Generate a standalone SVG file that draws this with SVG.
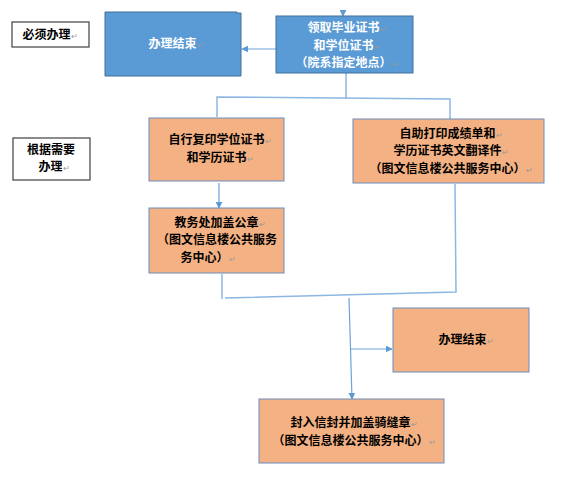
<svg xmlns="http://www.w3.org/2000/svg" width="567" height="479" viewBox="0 0 567 479">
<defs>
<marker id="ah" viewBox="0 0 10 10" refX="9" refY="5" markerWidth="7" markerHeight="7" markerUnits="userSpaceOnUse" orient="auto"><path d="M0,0 L10,5 L0,10 z" fill="#5B9BD5"/></marker>
<style>
.lbl{fill:#fff;stroke:#404040;stroke-width:1.2}
.blue{fill:#5B9BD5;stroke:#41719C;stroke-width:1}
.org{fill:#F4B183;stroke:#6A8DBE;stroke-width:1}
.t{font-family:"Noto Sans CJK SC","Noto Sans",sans-serif;font-size:12px;font-weight:bold;text-anchor:middle;fill:#000}
.tw{font-family:"Noto Sans CJK SC","Noto Sans",sans-serif;font-size:12px;font-weight:bold;text-anchor:middle;fill:#fff}
.pm{font-family:"Noto Sans CJK SC","Noto Sans",sans-serif;font-size:8px;font-weight:normal;fill:#999}
.c{fill:none;stroke:#8DB7E3;stroke-width:1.5}
.ca{fill:none;stroke:#6FA3DA;stroke-width:1.2;marker-end:url(#ah)}
</style>
</defs>
<g id="connectors">
<line class="ca" x1="343" y1="11" x2="343" y2="16"/>
<line class="ca" x1="276" y1="49" x2="242" y2="49"/>
<line class="c" x1="346" y1="73" x2="346" y2="99"/>
<polyline class="c" points="217,117 217,97 450,99 450,119"/>
<line class="ca" x1="219" y1="183" x2="219" y2="208"/>
<line class="c" x1="222" y1="274" x2="222" y2="299"/>
<polyline class="c" points="455,184 456,292 225,298"/>
<line class="ca" x1="349" y1="298" x2="352" y2="399"/>
<line class="ca" x1="351" y1="349" x2="392" y2="349"/>
</g>
<g id="label1">
<rect class="lbl" x="12" y="22" width="77" height="25"/>
<text class="t" x="50" y="39">必须办理<tspan class="pm">↵</tspan></text>
</g>
<g id="label2">
<rect class="lbl" x="13" y="138" width="77" height="42"/>
<text class="t" x="51" y="153.5">根据需要</text>
<text class="t" x="54" y="171">办理<tspan class="pm">↵</tspan></text>
</g>
<g id="end1">
<path class="blue" d="M105,12 L237,12 L237,13 L241,13 L241,76 L105,76 Z"/>
<text class="tw" x="176" y="48">办理结束<tspan class="pm">↵</tspan></text>
</g>
<g id="collect">
<rect class="blue" x="276" y="16" width="137" height="57"/>
<text class="tw" x="347" y="32">领取毕业证书<tspan class="pm">↵</tspan></text>
<text class="tw" x="347" y="49.5">和学位证书<tspan class="pm">↵</tspan></text>
<text class="tw" x="347" y="67">（院系指定地点）<tspan class="pm">↵</tspan></text>
</g>
<g id="copy">
<rect class="org" x="149" y="118" width="135" height="63"/>
<text class="t" x="220" y="144">自行复印学位证书<tspan class="pm">↵</tspan></text>
<text class="t" x="220" y="161.5">和学历证书<tspan class="pm">↵</tspan></text>
</g>
<g id="print">
<rect class="org" x="353" y="119" width="191" height="64"/>
<text class="t" x="451" y="137.5">自助打印成绩单和<tspan class="pm">↵</tspan></text>
<text class="t" x="451" y="155">学历证书英文翻译件<tspan class="pm">↵</tspan></text>
<text class="t" x="451" y="172.5">（图文信息楼公共服务中心）<tspan class="pm">↵</tspan></text>
</g>
<g id="stamp">
<rect class="org" x="149" y="208" width="135" height="65"/>
<text class="t" x="220" y="226.5">教务处加盖公章<tspan class="pm">↵</tspan></text>
<text class="t" x="217" y="244">（图文信息楼公共服务</text>
<text class="t" x="208" y="261.5">务中心）<tspan class="pm">↵</tspan></text>
</g>
<g id="end2">
<rect class="org" x="393" y="308" width="136" height="64"/>
<text class="t" x="466" y="344">办理结束<tspan class="pm">↵</tspan></text>
</g>
<g id="seal">
<rect class="org" x="259" y="399" width="185" height="64"/>
<text class="t" x="354" y="427">封入信封并加盖骑缝章<tspan class="pm">↵</tspan></text>
<text class="t" x="354" y="444.5">（图文信息楼公共服务中心）<tspan class="pm">↵</tspan></text>
</g>
</svg>
